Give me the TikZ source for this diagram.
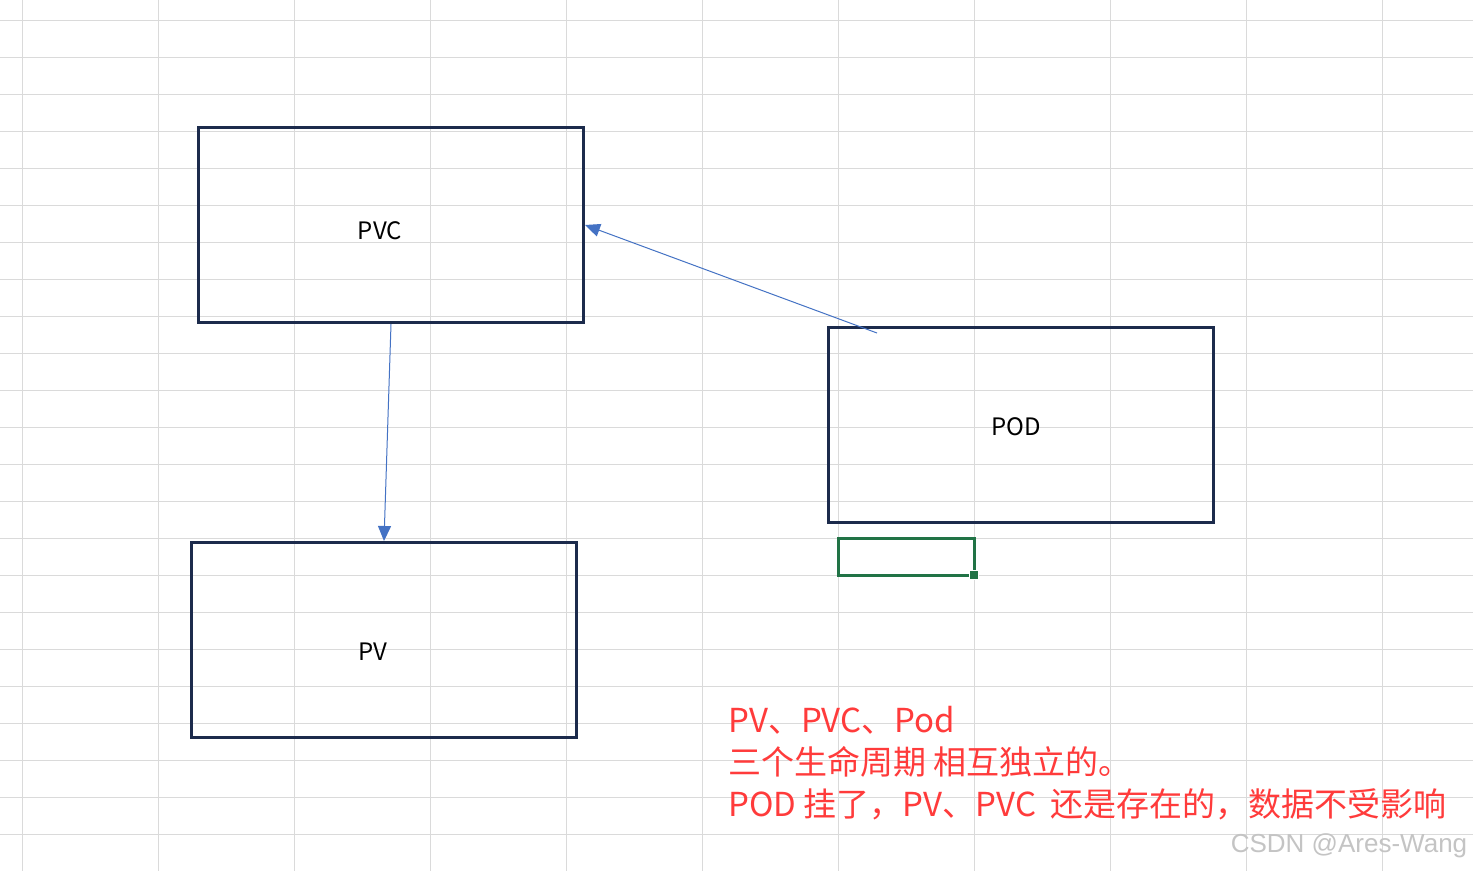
\documentclass[tikz,border=0pt]{standalone}
\usepackage{fontspec}
\setmainfont{Noto Sans CJK SC}
\newfontfamily\markfont{Liberation Sans}
\usepackage{tikz}
\usetikzlibrary{arrows.meta}
\definecolor{gridgray}{HTML}{DADADA}
\definecolor{boxnavy}{HTML}{1C2B4C}
\definecolor{linkblue}{HTML}{4472C4}
\definecolor{cellgreen}{HTML}{217346}
\definecolor{notered}{HTML}{FF3B3B}
\definecolor{markgray}{HTML}{C4C4C4}
\tikzstyle{obj}=[rectangle, draw=boxnavy, line width=3pt, minimum width=385pt, minimum height=195pt, inner sep=0pt]
\tikzstyle{note}=[anchor=base west, inner sep=0pt, text=notered, font=\fontsize{33}{38}\selectfont]
\providecommand{\obj}{\node[obj]}

\begin{document}
\begin{tikzpicture}[x=1pt, y=-1pt,
    every edge/.style={draw=linkblue, line width=1pt, -{Triangle[length=15pt,width=13pt]}}
]
\useasboundingbox (0,0) rectangle (1473,871);
\fill[white] (0,0) rectangle (1473,871);
% grid of the sheet
\foreach \i in {0,...,10}
    \draw[gridgray, line width=1pt] (22.5+136*\i,0) -- (22.5+136*\i,871);
\foreach \j in {0,...,22}
    \draw[gridgray, line width=1pt] (0,20.3+37*\j) -- (1473,20.3+37*\j);
% objects
\obj (pvc) at (391,225) {};
\obj (pv) at (384,640) {};
\obj (pod) at (1021,425) {};
\node (pvclabel) at (380,231) {\fontsize{24}{28}\selectfont PVC};
\node (pvlabel) at (373,652) {\fontsize{24}{28}\selectfont PV};
\node (podlabel) at (1016,427) {\fontsize{24}{28}\selectfont POD};
\coordinate (podtail) at (877,333);
% selected cell
\node (cell) at (906.5,557) [rectangle, draw=cellgreen, line width=2.4pt, minimum width=136pt, minimum height=37pt, inner sep=0pt] {};
\node (handle) at (973.5,575) [rectangle, fill=cellgreen, draw=white, line width=1pt, minimum size=9pt, inner sep=0pt] {};
\path
(podtail) edge (pvc.east)
(pvc.south) edge (pv.north)
;
% notes
\node[note] (line1) at (728,732) {PV、PVC、Pod};
\node[note] (line2) at (728,774) {三个生命周期 相互独立的。};
\node[note] (line3) at (728,816) {POD 挂了，PV、PVC\ \ 还是存在的，数据不受影响};
\node (mark) at (1349,846) [text=markgray, font=\markfont\fontsize{26}{30}\selectfont] {CSDN @Ares-Wang};
\end{tikzpicture}
\end{document}
